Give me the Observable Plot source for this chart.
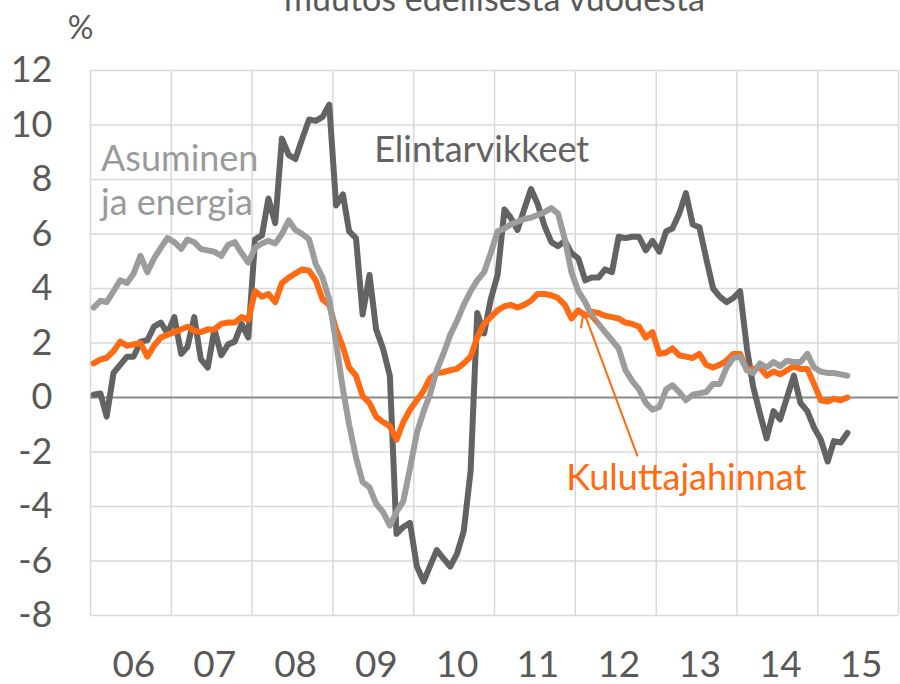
<!DOCTYPE html>
<html><head><meta charset="utf-8">
<script src="https://cdn.jsdelivr.net/npm/d3@7"></script>
<script src="https://cdn.jsdelivr.net/npm/@observablehq/plot@0.6"></script>
<style>
html,body{margin:0;padding:0;background:#fff;}
#chart{width:900px;height:684px;overflow:hidden;}
svg{display:block;}
</style></head><body><div id="chart"></div>
<script>
const startYear = 2006;
const elintarvikkeet = [
  0.1, 0.15, -0.7, 0.9, 1.2, 1.5, 1.5, 2.05, 2.1, 2.6,
  2.75, 2.35, 2.95, 1.6, 1.85, 2.95, 1.4, 1.1, 2.5, 1.55,
  1.95, 2.05, 2.7, 2.2, 5.8, 5.95, 7.3, 6.4, 9.5, 8.9,
  8.75, 9.5, 10.2, 10.15, 10.3, 10.75, 7.05, 7.45, 6.1, 5.85,
  3.05, 4.5, 2.5, 1.8, 0.8, -5.0, -4.75, -4.6, -6.2, -6.75,
  -6.2, -5.6, -5.9, -6.2, -5.75, -4.9, -2.7, 3.1, 2.35, 3.6,
  4.5, 6.9, 6.6, 6.15, 6.9, 7.65, 7.1, 6.3, 5.7, 5.55,
  5.75, 5.3, 5.1, 4.3, 4.4, 4.4, 4.7, 4.6, 5.9, 5.85,
  5.9, 5.9, 5.4, 5.75, 5.35, 6.1, 6.2, 6.75, 7.5, 6.35,
  6.25, 5.1, 4.0, 3.7, 3.5, 3.65, 3.9, 1.8, 0.4, -0.6,
  -1.5, -0.5, -0.8, 0.0, 0.8, -0.2, -0.5, -1.1, -1.55, -2.35,
  -1.6, -1.65, -1.3
];
const asuminen = [
  3.3, 3.55, 3.5, 3.9, 4.3, 4.2, 4.55, 5.2, 4.6, 5.1,
  5.5, 5.85, 5.7, 5.45, 5.8, 5.7, 5.45, 5.4, 5.35, 5.2,
  5.6, 5.7, 5.3, 4.95, 5.5, 5.65, 5.75, 5.65, 6.0, 6.5,
  6.15, 6.0, 5.8, 4.9, 4.4, 3.6, 2.0, 0.3, -1.0, -2.2,
  -3.1, -3.3, -3.9, -4.2, -4.7, -4.2, -3.8, -2.6, -1.3, -0.5,
  0.1, 1.0, 1.6, 2.3, 2.8, 3.4, 3.9, 4.3, 4.6, 5.3,
  6.1, 6.2, 6.35, 6.45, 6.55, 6.6, 6.7, 6.8, 6.95, 6.75,
  5.8, 4.6, 3.9, 3.5, 3.0, 2.7, 2.4, 2.1, 1.8, 1.0,
  0.6, 0.3, -0.2, -0.45, -0.35, 0.3, 0.45, 0.2, -0.1, 0.1,
  0.15, 0.2, 0.5, 0.5, 1.1, 1.45, 1.5, 1.0, 0.9, 1.25,
  1.1, 1.3, 1.15, 1.35, 1.3, 1.3, 1.6, 1.1, 0.95, 0.9,
  0.9, 0.85, 0.8
];
const kuluttajahinnat = [
  1.25, 1.4, 1.45, 1.7, 2.05, 1.9, 1.95, 2.0, 1.5, 1.9,
  2.2, 2.3, 2.4, 2.5, 2.6, 2.45, 2.4, 2.5, 2.5, 2.7,
  2.75, 2.75, 2.95, 2.85, 3.9, 3.7, 3.8, 3.5, 4.2, 4.4,
  4.55, 4.7, 4.65, 4.3, 3.6, 3.4, 2.5, 1.85, 1.1, 0.8,
  0.05, -0.2, -0.7, -0.9, -1.05, -1.55, -0.9, -0.45, -0.1, 0.25,
  0.7, 0.9, 0.93, 1.0, 1.05, 1.25, 1.5, 2.2, 2.7, 2.95,
  3.2, 3.35, 3.4, 3.3, 3.4, 3.55, 3.8, 3.8, 3.75, 3.65,
  3.4, 2.9, 3.2, 3.0, 3.15, 3.1, 3.0, 2.95, 2.9, 2.75,
  2.7, 2.6, 2.2, 2.4, 1.6, 1.65, 1.8, 1.55, 1.5, 1.45,
  1.6, 1.2, 1.1, 1.2, 1.35, 1.6, 1.6, 1.0, 1.05, 1.1,
  0.8, 0.95, 0.85, 1.0, 1.15, 1.05, 1.05, 0.5, -0.1, -0.15,
  -0.05, -0.1, 0.0
];
const seriesNames = ["Elintarvikkeet", "Kuluttajahinnat", "Asuminen ja energia"];
const yearTicks = [2006, 2007, 2008, 2009, 2010, 2011, 2012, 2013, 2014, 2015];
const yearLabels = ["06", "07", "08", "09", "10", "11", "12", "13", "14", "15"];
const yTicks = [-8, -6, -4, -2, 0, 2, 4, 6, 8, 10, 12];
const titleText = "muutos edellisestä vuodesta";
const unitText = "%";
// annotation labels: text, decimal year, value (baseline)
const annoText = ["Asuminen", "ja energia", "Elintarvikkeet", "Kuluttajahinnat"];
const annoYear = [2006.13, 2006.13, 2009.51, 2011.89];
const annoValue = [8.33, 6.68, 8.66, -3.41];
const annoSeries = ["Asuminen ja energia", "Asuminen ja energia", "Elintarvikkeet", "Kuluttajahinnat"];
// arrow pointing at Kuluttajahinnat line: [year, value]
const arrowFrom = [2012.766, -2.13];
const arrowTo = [2012.105, 3.15];

const colors = {
  "Elintarvikkeet": "#636363",
  "Asuminen ja energia": "#9c9c9c",
  "Kuluttajahinnat": "#ff6a13"
};
const textColors = {
  "Elintarvikkeet": "#636363",
  "Asuminen ja energia": "#9a9a9a",
  "Kuluttajahinnat": "#ff6a13"
};

function decYear(t) {
  const y = Math.floor(t);
  const a = new Date(y, 0, 1), b = new Date(y + 1, 0, 1);
  return new Date(+a + (t - y) * (b - a));
}

const seriesValues = {
  "Elintarvikkeet": elintarvikkeet,
  "Kuluttajahinnat": kuluttajahinnat,
  "Asuminen ja energia": asuminen
};
const rows = [];
for (const name of seriesNames) {
  seriesValues[name].forEach((v, i) => rows.push({date: new Date(startYear, i, 15), value: v, series: name}));
}
const yearBoundaries = d3.range(yearTicks[0], yearTicks[yearTicks.length - 1] + 2).map(y => new Date(y, 0, 1));
const xLabelRows = yearTicks.map((y, i) => ({date: new Date(y, 6, 16), label: yearLabels[i]}));
const annoRows = annoText.map((t, i) => ({text: t, date: decYear(annoYear[i]), value: annoValue[i], series: annoSeries[i]}));
const arrowRows = [{x1: decYear(arrowFrom[0]), y1: arrowFrom[1], x2: decYear(arrowTo[0]), y2: arrowTo[1]}];
const fmt = d => (d < 0 ? "-" + Math.abs(d) : String(d));

const chart = Plot.plot({
  width: 900,
  height: 684,
  marginLeft: 90,
  marginRight: 2,
  marginTop: 70,
  marginBottom: 69,
  style: {fontFamily: "Lato, 'Open Sans', sans-serif", background: "#fff", overflow: "visible"},
  x: {type: "time", domain: [yearBoundaries[0], yearBoundaries[yearBoundaries.length - 1]], axis: null},
  y: {domain: [-8, 12], axis: null},
  marks: [
    Plot.ruleX(yearBoundaries, {stroke: "#d9d9d9", strokeWidth: 1.5}),
    Plot.ruleY(yTicks, {stroke: "#d9d9d9", strokeWidth: 1.5}),
    Plot.ruleY([0], {stroke: "#8c8c8c", strokeWidth: 1.8}),
    ...seriesNames.map(name => Plot.line(rows.filter(r => r.series === name), {
      x: "date", y: "value", stroke: colors[name], strokeWidth: 6,
      strokeLinejoin: "round", strokeLinecap: "round"
    })),
    Plot.arrow(arrowRows, {x1: "x1", y1: "y1", x2: "x2", y2: "y2", stroke: colors["Kuluttajahinnat"], strokeWidth: 2, headLength: 12}),
    Plot.text(yTicks, {y: d => d, text: fmt, frameAnchor: "left", dx: -38, textAnchor: "end", fontSize: 36, fill: "#595959"}),
    Plot.text(xLabelRows, {x: "date", text: "label", frameAnchor: "bottom", dy: 61, lineAnchor: "bottom", fontSize: 37, fill: "#595959", ariaLabel: "xlabels"}),
    Plot.text(annoRows, {x: "date", y: "value", text: "text", textAnchor: "start", lineAnchor: "bottom", fontSize: 36, fill: d => textColors[d.series]}),
    Plot.text([titleText], {frameAnchor: "top", dy: -60, lineAnchor: "bottom", fontSize: 34, fill: "#595959"}),
    Plot.text([unitText], {frameAnchor: "top-left", dx: -10, dy: -32, lineAnchor: "bottom", textAnchor: "middle", fontSize: 32, fill: "#595959"})
  ]
});

// make x tick labels condensed like the original
const g = chart.querySelector('g[aria-label="xlabels"]');
if (g) {
  g.querySelectorAll("text").forEach(t => {
    const tr = t.getAttribute("transform");
    if (tr && tr.includes("translate")) {
      t.setAttribute("transform", tr + " scale(0.84,1)");
    } else {
      const x = +t.getAttribute("x") || 0, y = +t.getAttribute("y") || 0;
      t.removeAttribute("x"); t.removeAttribute("y");
      t.setAttribute("transform", `translate(${x},${y}) scale(0.84,1)`);
    }
  });
}
document.getElementById("chart").appendChild(chart);
</script>
</body></html>
